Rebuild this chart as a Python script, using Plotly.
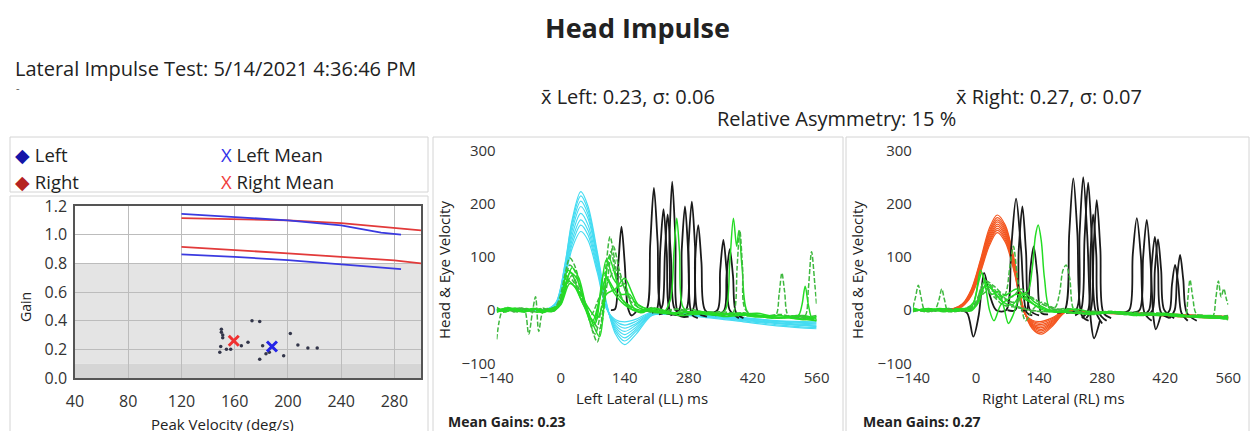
import plotly.graph_objects as go

W, H = 1251, 431


def PX(x):
    return x / W


def PY(y):
    return 1 - y / H


FONT = "Open Sans"
TXT = "#222222"

# ---------------- Left chart: gain vs peak velocity ----------------
x_ticks_left = [40, 80, 120, 160, 200, 240, 280]
y_ticks_left = [0.0, 0.2, 0.4, 0.6, 0.8, 1.0, 1.2]
y_tick_text_left = ["0.0", "0.2", "0.4", "0.6", "0.8", "1.0", "1.2"]

blue_upper_x = [120, 160, 200, 240, 270, 285]
blue_upper_y = [1.145, 1.125, 1.10, 1.065, 1.015, 1.00]
blue_lower_x = [120, 160, 200, 240, 280, 285]
blue_lower_y = [0.862, 0.845, 0.822, 0.795, 0.765, 0.76]
red_upper_x = [120, 160, 200, 240, 280, 300]
red_upper_y = [1.115, 1.108, 1.10, 1.08, 1.05, 1.03]
red_lower_x = [120, 160, 200, 240, 280, 300]
red_lower_y = [0.915, 0.895, 0.87, 0.845, 0.82, 0.80]

imp_velocity = [150, 150, 151, 151, 149.5, 148.8, 153.8, 157, 165, 170, 173,
                178.8, 178.8, 181, 183.5, 186, 196.8, 201.8, 207.5, 215, 222]
imp_gain = [0.34, 0.32, 0.30, 0.28, 0.22, 0.18, 0.20, 0.20, 0.225, 0.25, 0.40,
            0.395, 0.13, 0.225, 0.17, 0.18, 0.155, 0.31, 0.23, 0.21, 0.21]

left_mean = (188, 0.22)
right_mean = (159.3, 0.26)

# ---------------- Impulse traces ----------------
imp_ticks = [-140, 0, 140, 280, 420, 560]
vel_ticks = [-100, 0, 100, 200, 300]

# Left Lateral head (cyan)
ll_head_t = [-140, -60, -30, -10, 10, 25, 44, 60, 80, 100, 120, 140, 165, 200, 240, 300, 400, 480, 560]
ll_head = [
    [0, 0, 1, 15, 90, 170, 223, 195, 110, 15, -45, -65, -45, -10, -8, -12, -22, -30, -35],
    [0, 1, 2, 14, 88, 165, 215, 188, 105, 12, -40, -58, -40, -9, -7, -11, -20, -28, -33],
    [1, 0, 1, 13, 84, 158, 205, 180, 100, 10, -36, -52, -36, -8, -7, -10, -19, -26, -31],
    [0, 0, 1, 12, 80, 150, 195, 172, 95, 8, -32, -46, -32, -7, -6, -10, -18, -25, -30],
    [0, 1, 2, 12, 76, 141, 182, 160, 88, 6, -28, -40, -28, -6, -5, -9, -17, -24, -28],
    [0, 0, 1, 11, 71, 132, 170, 150, 82, 5, -24, -34, -25, -5, -5, -8, -16, -22, -26],
    [1, 0, 1, 10, 67, 124, 160, 141, 77, 4, -21, -28, -21, -4, -4, -8, -15, -21, -24],
    [0, 0, 1, 10, 62, 116, 148, 131, 71, 3, -18, -22, -17, -3, -4, -7, -14, -20, -22],
]

# Left Lateral saccades (black)
ll_sacc = [
    ([110, 119, 126, 133, 140, 147, 155, 165], [0, 2, 85, 157, 90, 5, -10, -3]),
    ([170, 187, 196, 204, 212, 221, 240], [-3, 0, 125, 230, 130, 0, -8]),
    ([200, 210, 218, 225, 232, 241, 260], [-5, 0, 115, 190, 110, -5, -10]),
    ([215, 233, 238, 244, 251, 259, 280], [-8, 0, 135, 242, 135, -10, -12]),
    ([215, 223, 228, 234, 241, 248, 260], [-5, 10, 105, 180, 105, 5, -8]),
    ([240, 259, 265, 272, 279, 287, 300], [-10, 0, 115, 195, 110, -8, -15]),
    ([250, 274, 280, 287, 294, 301, 320], [-8, 0, 125, 204, 120, -5, -12]),
    ([270, 289, 294, 301, 308, 316, 340], [-10, 0, 95, 160, 90, 0, -10]),
    ([320, 343, 349, 356, 363, 370, 390], [-8, 0, 75, 132, 75, 0, -15]),
    ([340, 358, 363, 370, 377, 384, 400], [-10, 0, 65, 115, 65, -5, -15]),
]

# Left Lateral eye (green): (t, v, dashed)
ll_eye = [
    ([-140, -128, -115, -100, -85, -70, -55, -40, -25, -10, 0, 10, 20, 30, 45, 60, 75, 90, 100, 108, 118, 130, 145, 160, 180, 200, 230, 260, 290, 320, 360, 400, 440, 480, 520, 560],
     [-55, -2, 5, -3, 4, -2, 3, -4, 2, 8, 30, 70, 98, 85, 40, -10, -45, 10, 90, 138, 95, 30, 10, 3, -2, 5, -3, 2, -6, -3, -8, -5, -12, -8, -15, -10], True),
    ([-140, -125, -110, -95, -80, -70, -62, -55, -48, -40, -30, -15, 0, 10, 20, 30, 45, 60, 70, 80, 92, 100, 110, 122, 135, 150, 170, 200, 240, 280, 320, 360, 400, 440, 480, 520, 560],
     [2, -4, 3, -3, 2, -45, -5, 25, -40, -5, 3, -2, 20, 55, 85, 75, 35, -10, -40, -60, 0, 70, 110, 60, 20, 5, -3, 4, -6, 2, -5, -8, -10, -12, -15, -10, -18], True),
    ([-140, -120, -100, -80, -60, -40, -20, -5, 5, 15, 25, 40, 55, 70, 85, 100, 115, 130, 140, 155, 175, 200, 225, 240, 248, 254, 260, 268, 290, 330, 380, 430, 480, 530, 560],
     [5, -3, 4, -2, 3, -5, 2, 10, 40, 75, 68, 30, 0, -30, 20, 95, 60, 45, 50, 10, -5, 3, -4, 20, 110, 173, 110, 5, -8, -4, -10, -6, -14, -10, -16], False),
    ([-140, -118, -96, -74, -52, -30, -10, 5, 20, 35, 50, 70, 85, 100, 120, 140, 165, 200, 250, 300, 340, 360, 370, 378, 385, 390, 397, 410, 440, 480, 520, 560],
     [-3, 4, -2, 3, -4, 2, 5, 30, 70, 60, 20, -20, 20, 60, 35, 15, 2, -3, -6, -4, -8, 0, 90, 173, 120, 150, 80, -5, -10, -14, -12, -20], False),
    ([-140, -120, -100, -80, -60, -40, -20, 0, 15, 25, 40, 55, 70, 85, 100, 115, 130, 150, 175, 210, 250, 300, 350, 400, 440, 470, 478, 484, 490, 498, 520, 560],
     [-2, 3, -4, 2, -3, 4, -2, 15, 50, 65, 40, 5, -20, -35, 40, 120, 70, 20, 3, -5, 2, -6, -3, -9, -12, -10, 30, 70, 35, -10, -14, -18], True),
    ([-140, -115, -90, -65, -40, -20, 0, 20, 40, 65, 85, 105, 120, 135, 150, 180, 220, 270, 320, 370, 380, 386, 392, 398, 405, 440, 480, 520, 535, 542, 549, 556, 560],
     [3, -2, 4, -3, 2, -2, 18, 60, 35, -10, 25, 55, 80, 50, 25, 5, -4, -8, -5, -10, 0, 80, 150, 80, 0, -12, -15, -10, -10, 40, 110, 50, 10], True),
    ([-140, -110, -85, -60, -35, -15, 0, 15, 30, 50, 75, 95, 115, 140, 170, 210, 260, 310, 360, 410, 460, 500, 520, 528, 535, 542, 550, 560],
     [-4, 2, -3, 3, -2, 2, 12, 55, 45, 10, -25, 70, 35, 10, -3, 3, -10, -5, -12, -8, -15, -12, -10, 10, 45, 10, -15, -12], False),
    ([-140, -120, -100, -80, -60, -40, -20, 0, 12, 25, 40, 55, 70, 85, 95, 105, 118, 132, 150, 170, 200, 240, 280, 330, 380, 430, 480, 530, 560],
     [1, -3, 2, -4, 3, -3, 2, 12, 50, 80, 60, 10, -25, -50, 10, 100, 70, 30, 30, 5, -2, -7, -3, -9, -6, -13, -10, -18, -12], False),
    ([-140, -110, -80, -50, -20, 0, 20, 40, 60, 80, 100, 120, 140, 155, 170, 200, 250, 300, 350, 400, 450, 500, 560],
     [0, 4, -2, 2, -3, 10, 50, 35, 5, -15, 30, 40, 60, 35, 10, 0, -5, -2, -8, -6, -12, -15, -20], False),
]

# Right Lateral head (orange)
rl_head_t = [-140, -80, -50, -30, -10, 10, 30, 47, 65, 85, 105, 125, 146, 170, 200, 250, 350, 450, 560]
rl_head = [
    [0, 1, 3, 12, 40, 95, 155, 179, 160, 95, 5, -35, -45, -30, -3, -5, -8, -12, -16],
    [0, 0, 3, 11, 38, 92, 150, 174, 156, 92, 4, -33, -42, -28, -3, -5, -8, -12, -15],
    [1, 0, 2, 10, 36, 89, 146, 170, 152, 89, 3, -31, -39, -26, -2, -4, -7, -11, -15],
    [0, 1, 2, 10, 35, 86, 142, 166, 148, 86, 2, -29, -36, -24, -2, -4, -7, -11, -14],
    [0, 0, 2, 9, 33, 83, 138, 162, 144, 83, 1, -27, -33, -22, -2, -4, -6, -10, -14],
    [0, 1, 2, 9, 32, 80, 134, 158, 140, 80, 0, -25, -30, -20, -1, -3, -6, -10, -13],
    [1, 0, 2, 8, 30, 77, 130, 154, 136, 77, 0, -23, -27, -18, -1, -3, -6, -9, -13],
    [0, 0, 1, 8, 29, 74, 126, 150, 132, 74, -1, -21, -24, -16, -1, -3, -5, -9, -12],
    [0, 1, 1, 7, 27, 71, 122, 146, 128, 71, -1, -19, -21, -14, 0, -3, -5, -8, -12],
]

# Right Lateral saccades (black)
rl_sacc = [
    ([-40, -20, -6, 6, 18, 30, 45, 67, 78, 89, 100, 113, 125], [0, -5, -50, -10, 70, 30, 0, 0, 115, 210, 115, -5, -10]),
    ([70, 87, 95, 103, 111, 120, 140], [0, 0, 115, 195, 110, 0, -10]),
    ([100, 112, 120, 128, 136, 145, 160], [0, 0, 72, 120, 68, -5, -8]),
    ([180, 197, 207, 216, 225, 235, 250], [-5, 0, 145, 248, 145, -10, -20]),
    ([200, 222, 230, 238, 247, 255, 262, 275], [-5, 0, 145, 250, 140, -20, -53, -20]),
    ([220, 233, 241, 249, 257, 265, 280], [-10, 0, 135, 240, 135, 0, -25]),
    ([235, 249, 254, 260, 267, 273, 290], [-15, 0, 105, 180, 105, -5, -20]),
    ([245, 255, 261, 268, 276, 283, 300], [-15, 0, 115, 207, 115, -5, -15]),
    ([320, 340, 348, 357, 366, 374, 390], [-5, 0, 105, 173, 100, -5, -20]),
    ([345, 363, 371, 379, 387, 394, 399, 410], [-5, 0, 100, 170, 95, -15, -36, -10]),
    ([370, 384, 390, 397, 404, 411, 430], [-10, 0, 85, 138, 80, -5, -15]),
    ([380, 392, 397, 404, 411, 418, 440], [-10, 0, 75, 133, 75, 0, -15]),
    ([420, 430, 435, 442, 449, 456, 470], [-10, 0, 48, 85, 48, -5, -20]),
    ([430, 441, 446, 453, 460, 468, 490], [-15, 0, 58, 104, 58, -5, -20]),
]

# Right Lateral eye (green): (t, v, dashed)
rl_eye = [
    ([-140, -134, -128, -122, -114, -100, -90, -82, -76, -70, -62, -45, -30, -15, 0, 10, 20, 35, 50, 65, 80, 100, 120, 150, 180, 220, 260, 300, 350, 400, 450, 500, 560],
     [5, 25, 47, 25, 0, -3, 2, 20, 40, 20, -2, 3, -2, 2, 10, 40, 55, 45, 30, 20, 10, 5, 0, -3, 2, -5, -2, -6, -4, -8, -10, -12, -15], True),
    ([-140, -115, -90, -65, -40, -20, -5, 5, 13, 22, 35, 50, 62, 72, 82, 95, 110, 130, 150, 175, 210, 250, 300, 350, 400, 450, 500, 560],
     [-3, 2, -2, 3, -2, 4, 15, 50, 70, 50, 30, 35, 5, -25, -10, 20, 30, 15, 5, -3, 2, -8, -4, -6, -10, -8, -14, -12], False),
    ([-140, -110, -80, -50, -25, -5, 10, 20, 35, 50, 65, 75, 83, 92, 100, 110, 125, 145, 170, 210, 260, 310, 360, 410, 460, 510, 560],
     [2, -3, 2, -2, 3, 10, 35, 45, 40, 20, 30, 80, 120, 60, 10, -20, 0, 15, 5, -4, -6, -3, -9, -7, -11, -13, -10], True),
    ([-140, -105, -70, -40, -15, 0, 15, 25, 40, 60, 80, 100, 115, 125, 132, 138, 145, 152, 165, 190, 230, 280, 330, 380, 430, 480, 530, 560],
     [-2, 3, -3, 2, -2, 10, 40, 50, 35, 15, 10, 30, 35, 80, 140, 160, 130, 60, 0, -3, -6, -4, -8, -6, -10, -12, -15, -14], False),
    ([-140, -100, -60, -30, -10, 5, 20, 40, 60, 80, 100, 120, 150, 175, 185, 193, 200, 208, 218, 240, 280, 330, 380, 430, 480, 530, 560],
     [0, -2, 3, -2, 2, 15, 40, 35, 25, 15, 20, 25, 10, 5, 30, 75, 85, 60, 0, -5, -3, -8, -6, -10, -12, -14, -18], True),
    ([-140, -110, -80, -50, -20, 0, 20, 40, 60, 80, 100, 120, 140, 170, 210, 260, 310, 360, 410, 450, 465, 470, 475, 481, 490, 520, 560],
     [3, -2, 2, -3, 4, 12, 55, 45, 30, 25, 40, 25, 15, 3, -4, -8, -5, -10, -8, -12, -10, 20, 57, 25, -8, -12, -16], True),
    ([-140, -100, -60, -20, 0, 15, 25, 40, 60, 90, 120, 160, 200, 250, 300, 350, 400, 450, 500, 525, 532, 538, 544, 550, 556, 560],
     [-2, 2, -3, 2, 8, 30, 35, 25, 10, 5, 0, -3, 3, -6, -2, -9, -5, -11, -9, -12, 20, 55, 25, 40, 20, 10], True),
    ([-140, -110, -80, -50, -25, -10, 0, 10, 20, 30, 40, 55, 70, 90, 110, 130, 160, 200, 250, 300, 350, 400, 450, 500, 560],
     [4, -2, 3, -2, 2, 5, 30, 75, 50, 0, -20, 10, 20, 30, 20, 10, 0, -4, -7, -3, -10, -7, -12, -13, -17], False),
    ([-140, -100, -60, -30, -10, 5, 20, 35, 50, 70, 90, 110, 130, 150, 180, 220, 270, 320, 370, 420, 470, 520, 560],
     [-1, 2, -2, 3, -1, 15, 45, 40, 25, 30, 40, 25, 10, 0, -4, 2, -6, -3, -9, -6, -11, -10, -14], False),
]

# ---------------- Figure ----------------
fig = go.Figure()

CYAN = "#45dcf2"
ORANGE = "#f4561f"
GREEN = "#24dc24"
GREEN_D = "#3fb83f"
BLACK = "#1a1a1a"


def line(x, y, color, width, xa, ya, dash="solid", shape="spline"):
    fig.add_trace(go.Scatter(x=x, y=y, mode="lines", xaxis=xa, yaxis=ya,
                             line=dict(color=color, width=width, dash=dash, shape=shape, smoothing=0.9),
                             showlegend=False, hoverinfo="skip"))


# left chart
line(red_upper_x, red_upper_y, "#e23a3a", 1.8, "x", "y", shape="linear")
line(red_lower_x, red_lower_y, "#e23a3a", 1.8, "x", "y", shape="linear")
line(blue_upper_x, blue_upper_y, "#3a3ae0", 1.8, "x", "y", shape="linear")
line(blue_lower_x, blue_lower_y, "#3a3ae0", 1.8, "x", "y", shape="linear")
fig.add_trace(go.Scatter(x=imp_velocity, y=imp_gain, mode="markers", xaxis="x", yaxis="y",
                         marker=dict(color="#33364a", size=3.5), showlegend=False, hoverinfo="skip"))
fig.add_trace(go.Scatter(x=[right_mean[0]], y=[right_mean[1]], mode="markers", xaxis="x", yaxis="y",
                         marker=dict(symbol="x-thin", size=10, line=dict(color="#f03030", width=3)),
                         showlegend=False, hoverinfo="skip"))
fig.add_trace(go.Scatter(x=[left_mean[0]], y=[left_mean[1]], mode="markers", xaxis="x", yaxis="y",
                         marker=dict(symbol="x-thin", size=10, line=dict(color="#2424e8", width=3)),
                         showlegend=False, hoverinfo="skip"))

DASH = "5px,2px"

# middle panel
for v in ll_head:
    line(ll_head_t, v, CYAN, 1.2, "x2", "y2")
for t, v in ll_sacc:
    line(t, v, BLACK, 1.8, "x2", "y2")
for t, v, d in ll_eye:
    line(t, v, GREEN_D if d else GREEN, 1.5, "x2", "y2", dash=DASH if d else "solid")

# right panel
for v in rl_head:
    line(rl_head_t, v, ORANGE, 1.2, "x3", "y3")
for t, v in rl_sacc:
    line(t, v, BLACK, 1.8, "x3", "y3")
for t, v, d in rl_eye:
    line(t, v, GREEN_D if d else GREEN, 1.5, "x3", "y3", dash=DASH if d else "solid")

tickfont = dict(family=FONT, size=15, color="#333333")

fig.update_layout(
    width=W, height=H, margin=dict(l=0, r=0, t=0, b=0, autoexpand=False),
    paper_bgcolor="white", plot_bgcolor="white",
    font=dict(family=FONT, color=TXT),
    xaxis=dict(domain=[PX(75), PX(421)], range=[40, 300], tickvals=x_ticks_left, automargin=False,
               showgrid=True, gridcolor="#bcbcbc", gridwidth=1, zeroline=False,
               showline=True, linecolor="#555555", linewidth=1.5, mirror=True,
               tickfont=dict(family=FONT, size=16, color="#333333"), ticklabelstandoff=8),
    yaxis=dict(domain=[PY(378), PY(206)], range=[0, 1.2], tickvals=y_ticks_left, automargin=False,
               ticktext=y_tick_text_left,
               showgrid=True, gridcolor="#bcbcbc", gridwidth=1, zeroline=False,
               showline=True, linecolor="#555555", linewidth=1.5, mirror=True,
               tickfont=dict(family=FONT, size=16, color="#333333"), ticklabelstandoff=3),
    xaxis2=dict(domain=[PX(496.7), PX(816.6)], range=[-140, 560], tickvals=imp_ticks, automargin=False,
                showgrid=False, zeroline=False, showline=False, tickfont=tickfont, anchor="y2",
                ticklabelstandoff=4),
    yaxis2=dict(domain=[PY(363.3), PY(150.7)], range=[-100, 300], tickvals=vel_ticks, automargin=False,
                showgrid=False, zeroline=False, showline=False, tickfont=tickfont, anchor="x2"),
    xaxis3=dict(domain=[PX(912.9), PX(1228.3)], range=[-140, 560], tickvals=imp_ticks, automargin=False,
                showgrid=False, zeroline=False, showline=False, tickfont=tickfont, anchor="y3",
                ticklabelstandoff=4),
    yaxis3=dict(domain=[PY(363.3), PY(150.7)], range=[-100, 300], tickvals=vel_ticks, automargin=False,
                showgrid=False, zeroline=False, showline=False, tickfont=tickfont, anchor="x3"),
)

shapes = []
# gray zones in the gain chart
shapes.append(dict(type="rect", xref="x", yref="y", x0=40, x1=300, y0=0.1, y1=0.8,
                   fillcolor="#e4e4e4", line=dict(width=0), layer="below"))
shapes.append(dict(type="rect", xref="x", yref="y", x0=40, x1=300, y0=0.0, y1=0.1,
                   fillcolor="#d5d5d5", line=dict(width=0), layer="below"))
# panel frames
for x0, y0, x1, y1 in [(10, 137, 428, 192), (10, 196, 428, 445), (433, 137, 843, 445), (846, 137, 1249, 445)]:
    shapes.append(dict(type="rect", xref="paper", yref="paper", x0=PX(x0), x1=PX(x1), y0=PY(y1), y1=PY(y0),
                       line=dict(color="#d4d4d4", width=1), fillcolor="rgba(0,0,0,0)", layer="below"))
fig.update_layout(shapes=shapes)

ann = []


def text(x, y, s, size, xanchor="left", bold=False, angle=0, color=TXT, yanchor="middle"):
    ann.append(dict(x=PX(x), y=PY(y), xref="paper", yref="paper", text=("<b>%s</b>" % s) if bold else s,
                    showarrow=False, xanchor=xanchor, yanchor=yanchor, textangle=angle,
                    font=dict(family=FONT, size=size, color=color)))


text(637, 28, "Head Impulse", 27, xanchor="center", bold=True)
text(13, 68, "Lateral Impulse Test: 5/14/2021 4:36:46 PM", 20)
text(14, 87, "-", 11, color="#555555")
text(539, 96, "x\u0304 Left: 0.23, \u03c3: 0.06", 20)
text(954, 96, "x\u0304 Right: 0.27, \u03c3: 0.07", 20)
text(715, 119, "Relative Asymmetry: 15 %", 20)

# legend
text(13, 154, "<span style='color:#1414a8'>\u25c6</span> Left", 18.5)
text(13, 181, "<span style='color:#b52222'>\u25c6</span> Right", 18.5)
text(219, 154, "<span style='color:#3030e8'>X</span> Left Mean", 18.5)
text(219, 181, "<span style='color:#f03a3a'>X</span> Right Mean", 18.5)

# axis titles
text(25, 307, "Gain", 14, xanchor="center", angle=-90)
text(222, 424, "Peak Velocity (deg/s)", 15, xanchor="center")
text(444, 270, "Head &amp; Eye Velocity", 15, xanchor="center", angle=-90)
text(642, 398, "Left Lateral (LL) ms", 15, xanchor="center")
text(446, 421, "Mean Gains: 0.23", 14, bold=True)
text(857, 270, "Head &amp; Eye Velocity", 15, xanchor="center", angle=-90)
text(1053, 398, "Right Lateral (RL) ms", 15, xanchor="center")
text(861, 421, "Mean Gains: 0.27", 14, bold=True)

fig.update_layout(annotations=ann)

fig.write_html("out.html", config={"displayModeBar": False},
               post_script="document.body.style.margin='0px';document.body.style.overflow='hidden';")
